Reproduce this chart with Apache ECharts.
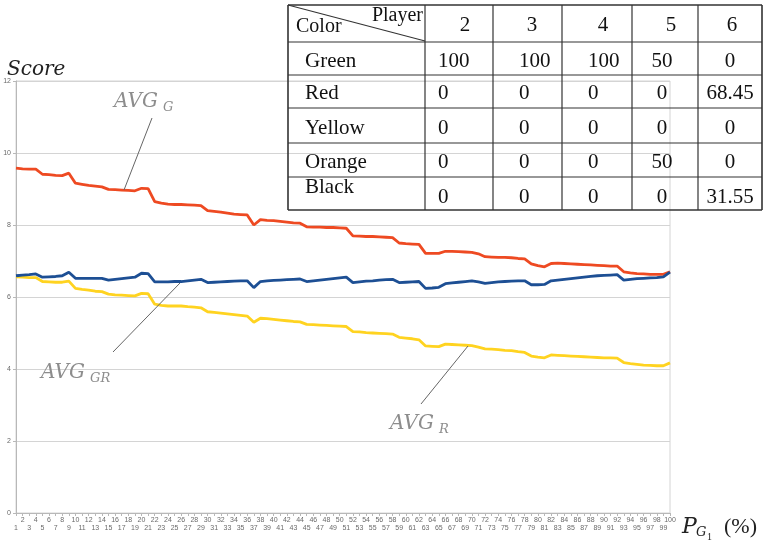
<!DOCTYPE html>
<html><head><meta charset="utf-8">
<script src="https://cdn.jsdelivr.net/npm/echarts@6/dist/echarts.min.js"></script>
<style>html,body{margin:0;padding:0;background:#fff}#c{width:763px;height:543px}</style>
</head><body><div id="c"></div>
<script>
// x categories: P_G1 (%) 1..100
var categories = [];
for (var k = 1; k <= 100; k++) categories.push(String(k));

var avgG = [9.58,9.56,9.55,9.55,9.41,9.40,9.38,9.37,9.44,9.16,
9.13,9.10,9.08,9.06,8.99,8.98,8.97,8.96,8.95,9.02,
9.01,8.65,8.61,8.58,8.57,8.57,8.56,8.55,8.54,8.40,
8.38,8.36,8.33,8.30,8.29,8.28,8.00,8.15,8.13,8.12,
8.10,8.08,8.06,8.05,7.95,7.94,7.94,7.93,7.93,7.92,
7.91,7.70,7.69,7.68,7.68,7.67,7.66,7.65,7.50,7.48,
7.47,7.46,7.21,7.21,7.21,7.27,7.27,7.26,7.25,7.24,
7.20,7.12,7.11,7.10,7.10,7.09,7.07,7.06,6.92,6.87,
6.84,6.93,6.94,6.93,6.92,6.91,6.90,6.89,6.88,6.87,
6.86,6.86,6.70,6.67,6.65,6.64,6.63,6.63,6.63,6.70];

var avgGR = [6.59,6.61,6.62,6.64,6.55,6.56,6.57,6.59,6.69,6.52,
6.52,6.52,6.52,6.52,6.47,6.49,6.51,6.53,6.55,6.66,
6.65,6.42,6.42,6.42,6.43,6.43,6.45,6.47,6.49,6.40,
6.41,6.42,6.43,6.44,6.45,6.45,6.26,6.43,6.45,6.46,
6.47,6.48,6.49,6.50,6.43,6.45,6.47,6.49,6.51,6.53,
6.55,6.40,6.42,6.44,6.45,6.47,6.48,6.49,6.40,6.41,
6.42,6.43,6.24,6.25,6.27,6.37,6.39,6.41,6.43,6.45,
6.42,6.38,6.40,6.42,6.43,6.44,6.45,6.45,6.34,6.34,
6.35,6.45,6.47,6.49,6.51,6.53,6.55,6.57,6.59,6.60,
6.61,6.62,6.47,6.49,6.51,6.52,6.53,6.54,6.56,6.69];

var avgR = [6.56,6.55,6.54,6.54,6.43,6.42,6.41,6.41,6.44,6.24,
6.21,6.19,6.16,6.15,6.08,6.06,6.05,6.04,6.03,6.10,
6.09,5.80,5.77,5.75,5.75,5.75,5.73,5.72,5.70,5.59,
5.57,5.55,5.53,5.51,5.49,5.47,5.30,5.41,5.40,5.38,
5.36,5.34,5.32,5.31,5.24,5.23,5.22,5.21,5.20,5.19,
5.18,5.04,5.03,5.01,5.00,4.99,4.98,4.97,4.88,4.86,
4.84,4.81,4.64,4.63,4.62,4.69,4.68,4.67,4.66,4.65,
4.61,4.56,4.55,4.54,4.52,4.51,4.48,4.46,4.36,4.33,
4.31,4.39,4.38,4.37,4.36,4.35,4.34,4.33,4.32,4.31,
4.31,4.30,4.18,4.15,4.13,4.11,4.10,4.09,4.09,4.17];

var yTicks = [0,2,4,6,8,10,12];

// table
var tableHeader = ['2','3','4','5','6'];
var tableRows = ['Green','Red','Yellow','Orange','Black'];
var tableValues = [
  ['100','100','100','50','0'],
  ['0','0','0','0','68.45'],
  ['0','0','0','0','0'],
  ['0','0','0','50','0'],
  ['0','0','0','0','31.55']
];

var chart = echarts.init(document.getElementById('c'), null, {renderer:'canvas'});

var serif = '"Liberation Serif", "DejaVu Serif", serif';
var dserif = '"DejaVu Serif", serif';
var G = [];
function txt(x, y, s, o) {
  o = o || {};
  G.push({type:'text', x:x, y:y, z:10, style:{
    text:s, fill:o.fill||'#111', font:(o.italic?'italic ':'')+(o.size||21)+'px '+(o.family||serif),
    textAlign:o.align||'left', textVerticalAlign:'middle'}});
}
function line(x1,y1,x2,y2,c,w){
  G.push({type:'line', z:10, shape:{x1:x1,y1:y1,x2:x2,y2:y2}, style:{stroke:c||'#222', lineWidth:w||1.3}});
}

// table grid
var colX = [288,425,493,562,632,698,762];
var rowY = [5,42,75,108,143,177,210];
for (var i=0;i<rowY.length;i++) line(colX[0], rowY[i], colX[6], rowY[i], '#333', (i===0||i===rowY.length-1)?1.6:1.2);
for (var j=0;j<colX.length;j++) line(colX[j], rowY[0], colX[j], rowY[6], '#333', (j===0||j===colX.length-1)?1.6:1.2);
line(288,5,425,41,'#333',1.1);
txt(296, 27, 'Color', {size:20});
txt(423, 16, 'Player', {size:20, align:'right'});
var headX = [465,532,603,671,732];
tableHeader.forEach(function(h,i){ txt(headX[i], 25, h, {align:'center'}); });
var rowLabelY = [61,93,128,162,187];
var rowValY = [61,93,128,162,197];
var valX = [[438,'left'],[519,'left'],[588,'left'],[662,'center'],[730,'center']];
tableRows.forEach(function(r,i){
  txt(305, rowLabelY[i], r);
  tableValues[i].forEach(function(v,c){
    txt(valX[c][0], rowValY[i], v, {align:valX[c][1]});
  });
});

// annotations
var grey = '#8d8d8d';
var A = {italic:true, size:20, fill:grey, family:dserif};
var S = {italic:true, size:13, fill:grey, family:dserif};
txt(114, 102, 'AVG', A);
txt(163, 108, 'G', S);
line(152,118,124,190,'#666',1);
txt(41, 373, 'AVG', A);
txt(90, 379, 'GR', S);
line(113,352,180,283,'#666',1);
txt(390, 424, 'AVG', A);
txt(439, 430, 'R', S);
line(421,404,468,346,'#666',1);
// axis names
txt(7, 70, 'Score', {italic:true, size:20, fill:'#222', family:dserif});
txt(682, 527, 'P', {italic:true, size:22, fill:'#222', family:dserif});
txt(696, 533, 'G', {italic:true, size:13, fill:'#222', family:dserif});
txt(707, 537, '1', {size:10, fill:'#222'});
txt(724, 527, '(%)', {size:22, fill:'#222'});

var option = {
  animation:false,
  backgroundColor:'#fff',
  grid:{left:16, right:93, top:81, bottom:30, show:true, borderColor:'#d4d4d4', borderWidth:1},
  xAxis:{type:'category', data:categories, boundaryGap:false,
    axisLine:{lineStyle:{color:'#b8b8b8', width:1}},
    axisTick:{show:true, interval:0, length:3, lineStyle:{color:'#b8b8b8'}},
    axisLabel:{interval:0, fontSize:7, color:'#6a6a6a', margin:3, lineHeight:8, fontFamily:'Liberation Sans, sans-serif',
      formatter:function(v){ return (+v)%2===0 ? v+'\n ' : ' \n'+v; }},
    splitLine:{show:false}},
  yAxis:{type:'value', min:0, max:12, interval:2,
    axisLine:{show:true, lineStyle:{color:'#b8b8b8'}},
    axisTick:{show:true, length:3, lineStyle:{color:'#b8b8b8'}},
    axisLabel:{fontSize:7, color:'#6a6a6a', margin:5, fontFamily:'Liberation Sans, sans-serif',
      formatter:function(v){ return yTicks.indexOf(v)>=0 ? String(v) : ''; }},
    splitLine:{lineStyle:{color:'#d4d4d4', width:1}}},
  series:[
    {name:'AVG_G', type:'line', data:avgG, symbol:'none', lineStyle:{color:'#ee4a22', width:2.8}, itemStyle:{color:'#ee4a22'}},
    {name:'AVG_R', type:'line', data:avgR, symbol:'none', lineStyle:{color:'#ffd320', width:2.8}, itemStyle:{color:'#ffd320'}},
    {name:'AVG_GR', type:'line', data:avgGR, symbol:'none', lineStyle:{color:'#1d4f94', width:2.8}, itemStyle:{color:'#1d4f94'}}
  ],
  graphic:G
};
chart.setOption(option);
</script>
</body></html>
